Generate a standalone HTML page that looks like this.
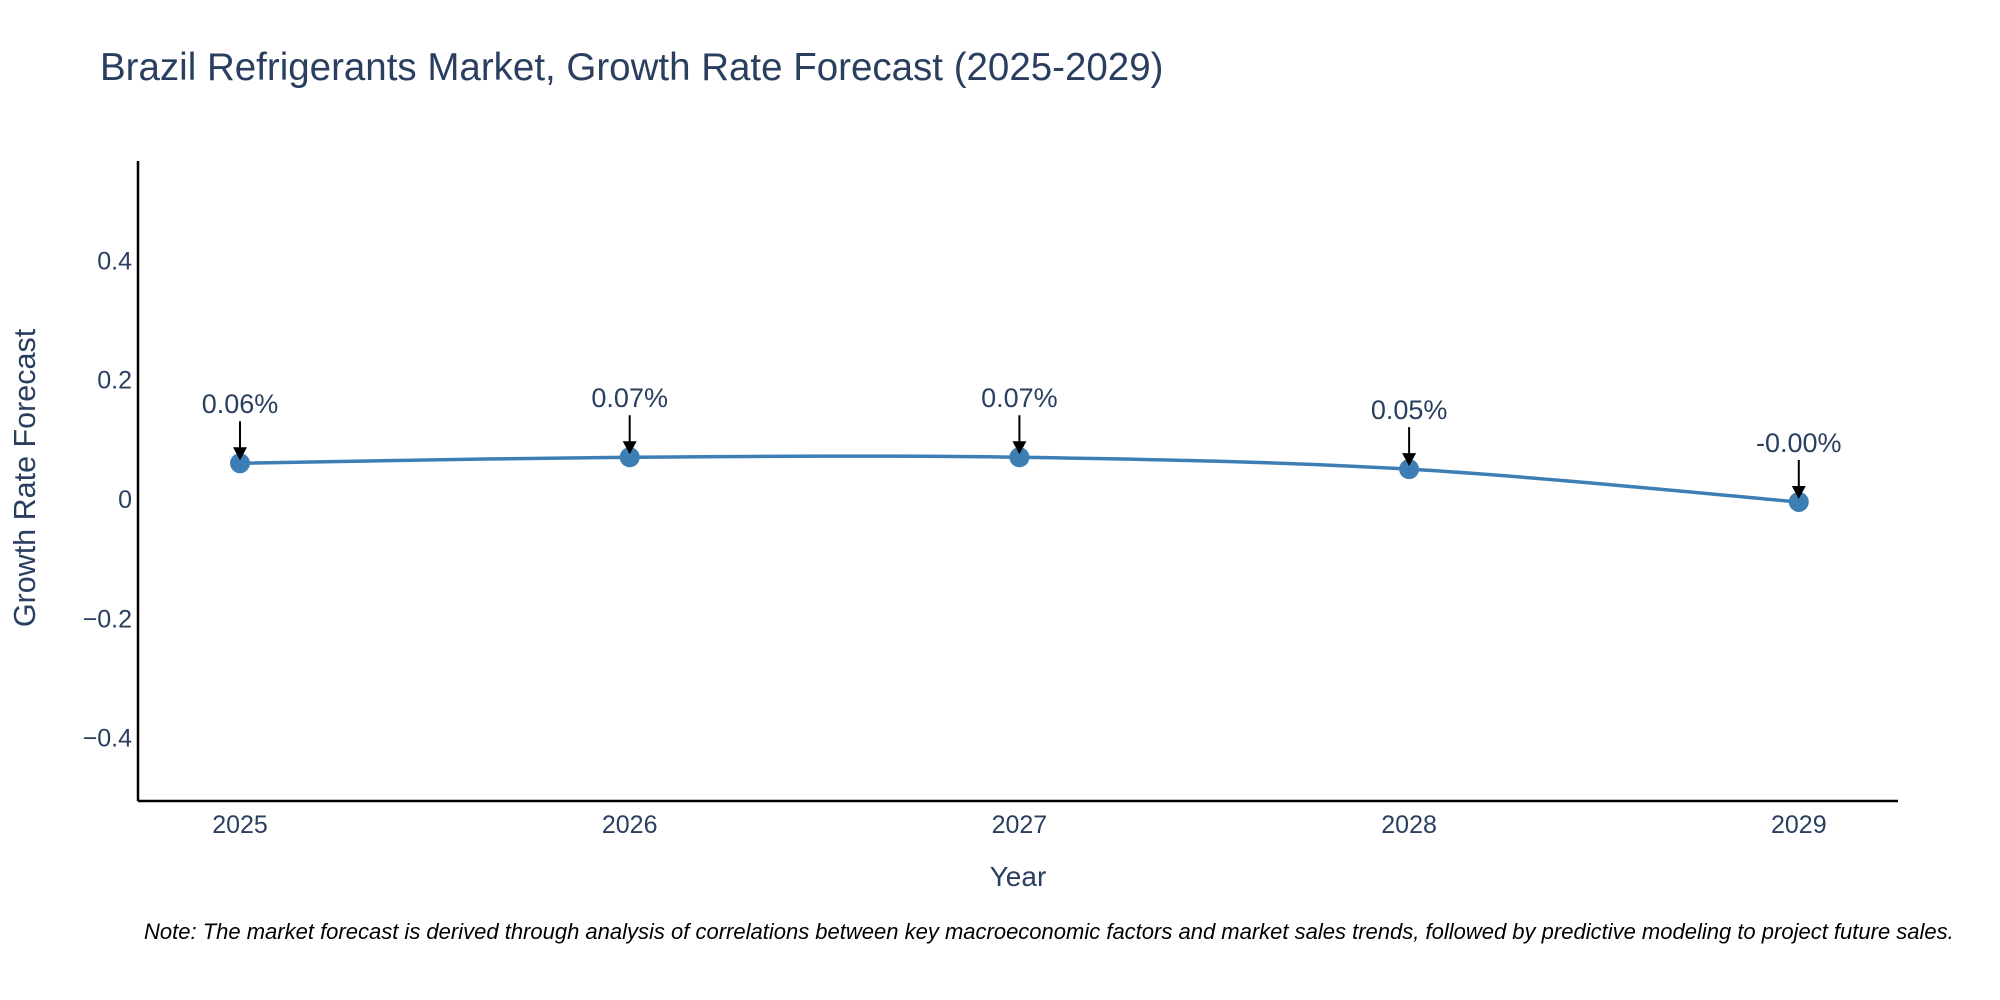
<!DOCTYPE html>
<html><head><meta charset="utf-8"><style>
html,body{margin:0;padding:0;background:#fff;width:2000px;height:1000px;overflow:hidden}
svg{display:block;font-family:"Liberation Sans",sans-serif}
</style></head><body>
<svg id="chart" width="2000" height="1000" viewBox="0 0 2000 1000">
<text x="100" y="80" font-size="38.5" fill="#2a3f5f">Brazil Refrigerants Market, Growth Rate Forecast (2025-2029)</text>
<g id="axes"></g>
<g id="series"></g>
<g id="anns"></g>
<text x="1018" y="886" font-size="28" fill="#2a3f5f" text-anchor="middle">Year</text>
<text transform="translate(35,478) rotate(-90)" font-size="30.5" fill="#2a3f5f" text-anchor="middle">Growth Rate Forecast</text>
<text x="144" y="939" font-size="22" font-style="italic" fill="#000">Note: The market forecast is derived through analysis of correlations between key macroeconomic factors and market sales trends, followed by predictive modeling to project future sales.</text>
</svg>
<script>
const years=[2025,2026,2027,2028,2029];
const values=[0.06,0.07,0.07,0.05,-0.005];
const labels=["0.06%","0.07%","0.07%","0.05%","-0.00%"];
const yTicks=[-0.4,-0.2,0,0.2,0.4];
const yTickLabels=["\u22120.4","\u22120.2","0","0.2","0.4"];
const NS="http://www.w3.org/2000/svg";
const L=138,R=1898,T=161,B=801;
const x0=240,xStep=389.7;
function xs(v){return x0+(v-years[0])*xStep;}
const y0=499,yPer=119.3/0.2;
function ys(v){return y0-v*yPer;}
function mk(tag,attrs,parent){const e=document.createElementNS(NS,tag);for(const k in attrs)e.setAttribute(k,attrs[k]);parent.appendChild(e);return e;}
const axes=document.getElementById('axes');
let yl=mk('line',{x1:L,y1:T,x2:L,y2:B,stroke:'#000','stroke-width':2.5},axes);


let xl=mk('line',{x1:L,y1:B,x2:R,y2:B,stroke:'#000','stroke-width':2.5},axes);


yTicks.forEach((t,i)=>{const e=mk('text',{x:L-6,y:ys(t)+9,'font-size':25,fill:'#2a3f5f','text-anchor':'end'},axes);e.textContent=yTickLabels[i];

});
years.forEach(y=>{const e=mk('text',{x:xs(y),y:833,'font-size':25,fill:'#2a3f5f','text-anchor':'middle'},axes);e.textContent=y;

});
const pts=years.map((y,i)=>[xs(y),ys(values[i])]);
let d=`M${pts[0][0]},${pts[0][1]}`;
for(let i=0;i<pts.length-1;i++){const p0=pts[Math.max(0,i-1)],p1=pts[i],p2=pts[i+1],p3=pts[Math.min(pts.length-1,i+2)];
const c1=[p1[0]+(p2[0]-p0[0])/6,p1[1]+(p2[1]-p0[1])/6],c2=[p2[0]-(p3[0]-p1[0])/6,p2[1]-(p3[1]-p1[1])/6];
d+=` C${c1[0]},${c1[1]} ${c2[0]},${c2[1]} ${p2[0]},${p2[1]}`;}
const ser=document.getElementById('series');
const line=mk('path',{d:d,fill:'none',stroke:'#3d7fb5','stroke-width':3.5},ser);


pts.forEach(p=>{const c=mk('circle',{cx:p[0],cy:p[1],r:10,fill:'#3d7fb5'},ser);

});
const anns=document.getElementById('anns');
pts.forEach((p,i)=>{
const a=mk('line',{x1:p[0],y1:p[1]-42,x2:p[0],y2:p[1]-14,stroke:'#000','stroke-width':2},anns);


const h=mk('polygon',{points:`${p[0]-7},${p[1]-16} ${p[0]+7},${p[1]-16} ${p[0]},${p[1]-3}`,fill:'#000'},anns);


const t=mk('text',{x:p[0],y:p[1]-50,'font-size':27,fill:'#2a3f5f','text-anchor':'middle'},anns);t.textContent=labels[i];

});
</script>
</body></html>
